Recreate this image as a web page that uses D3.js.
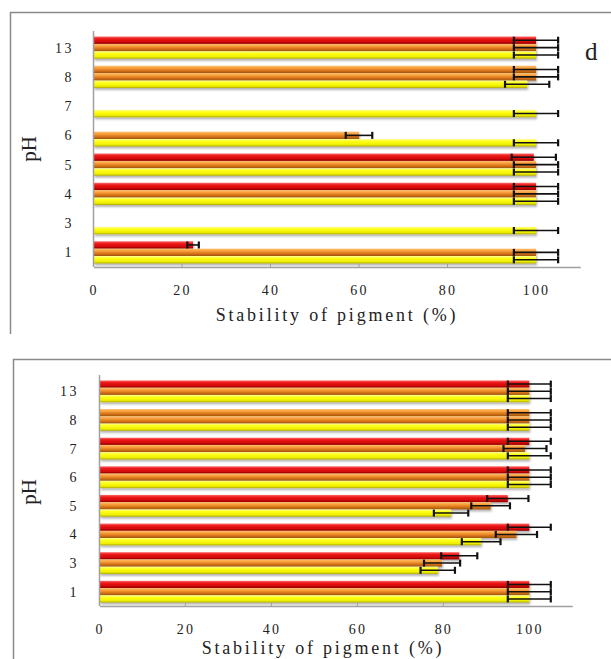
<!DOCTYPE html>
<html>
<head>
<meta charset="utf-8">
<script src="https://cdn.jsdelivr.net/npm/d3@7"></script>
<style>
  body { margin: 0; background: #fff; }
  svg text { font-family: "Liberation Serif", "DejaVu Serif", serif; fill: #222; }
</style>
</head>
<body>
<div id="chart"></div>
<script>
// pH categories, top to bottom
const phLabels = ["13", "8", "7", "6", "5", "4", "3", "1"];
const xTicks = [0, 20, 40, 60, 80, 100];

// upper panel (d)
const topRed = [100, 100, null, null, 99.5, 100, null, 22.5];
const topRedErr = [5, 5, null, null, 5, 5, null, 1.3];
const topOrange = [100, 100, null, 60, 100, 100, null, 100];
const topOrangeErr = [5, 5, null, 3, 5, 5, null, 5];
const topYellow = [100, 98, 100, 100, 100, 100, 100, 100];
const topYellowErr = [5, 5, 5, 5, 5, 5, 5, 5];

// lower panel
const botRed = [100, 100, 100, 100, 95, 100, 83.7, 100];
const botRedErr = [5, 5, 5, 5, 4.8, 5, 4.2, 5];
const botOrange = [100, 100, 99, 100, 91, 97, 79.7, 100];
const botOrangeErr = [5, 5, 5, 5, 4.5, 4.8, 4.2, 5];
const botYellow = [100, 100, 100, 100, 81.8, 88.8, 78.7, 100];
const botYellowErr = [5, 5, 5, 5, 4, 4.5, 4, 5];

const seriesKeys = ["red", "orange", "yellow"];
// at pH 8 the first bar is drawn in the orange fill in the source figure
const firstBarOrangeAt = ["8"];

const width = 611, height = 659;

const svg = d3.select("#chart").append("svg")
    .attr("width", width)
    .attr("height", height);

const defs = svg.append("defs");
const grads = {
    red: [["0%", "#ff6a6a"], ["30%", "#ec1a1a"], ["70%", "#d40808"], ["100%", "#8c0000"]],
    orange: [["0%", "#ffc070"], ["35%", "#f69a34"], ["65%", "#d8741a"], ["100%", "#9c520c"]],
    yellow: [["0%", "#ffff90"], ["30%", "#ffff18"], ["75%", "#eeee00"], ["100%", "#b0a800"]]
};
Object.keys(grads).forEach(function(k) {
    const g = defs.append("linearGradient")
        .attr("id", "g-" + k)
        .attr("x1", 0).attr("y1", 0).attr("x2", 0).attr("y2", 1);
    grads[k].forEach(function(s) {
        g.append("stop").attr("offset", s[0]).attr("stop-color", s[1]);
    });
});
defs.append("filter").attr("id", "shadow")
    .attr("x", "-5%").attr("y", "-50%").attr("width", "110%").attr("height", "200%")
    .append("feDropShadow")
    .attr("dx", 1).attr("dy", 2).attr("stdDeviation", 1)
    .attr("flood-color", "#000").attr("flood-opacity", 0.3);

function drawPanel(cfg) {
    const g = svg.append("g");

    // frame (only top and left edges visible)
    g.append("path")
        .attr("d", `M${cfg.frameX},${cfg.frameBottom}V${cfg.frameY}H${width}`)
        .attr("fill", "none")
        .attr("stroke", "#8a8a8a")
        .attr("stroke-width", 1.5);

    const x = d3.scaleLinear().domain([0, 110]).range([cfg.left, cfg.right]);
    const y = d3.scaleBand().domain(phLabels).range([cfg.top, cfg.bottom])
        .paddingInner(0.24).paddingOuter(0.12);
    const ys = d3.scaleBand().domain(seriesKeys).range([0, y.bandwidth()]);

    const rows = [];
    phLabels.forEach(function(ph, i) {
        seriesKeys.forEach(function(key) {
            const v = cfg.values[key][i];
            if (v == null) return;
            let fill = key;
            if (key === "red" && firstBarOrangeAt.includes(ph)) fill = "orange";
            rows.push({ ph: ph, key: key, value: v, err: cfg.errors[key][i], fill: fill });
        });
    });

    // bars
    g.append("g").attr("filter", "url(#shadow)")
        .selectAll("rect")
        .data(rows)
        .enter()
        .append("rect")
        .attr("x", x(0))
        .attr("y", d => y(d.ph) + ys(d.key))
        .attr("width", d => x(d.value) - x(0))
        .attr("height", ys.bandwidth())
        .attr("fill", d => "url(#g-" + d.fill + ")");

    // axes
    const xAxis = d3.axisBottom(x).tickValues(xTicks).tickSize(0).tickPadding(18);
    const ax = g.append("g").attr("transform", `translate(0,${cfg.bottom})`).call(xAxis);
    ax.select(".domain").attr("stroke", "#a0a0a0").attr("stroke-width", 1.5);
    ax.selectAll(".tick text")
        .attr("font-size", 14)
        .attr("letter-spacing", "2.2px")
        .attr("fill", "#333")
        .attr("font-family", "Liberation Serif, serif");
    g.append("g").selectAll("line")
        .data(xTicks.slice(1, -1))
        .enter()
        .append("line")
        .attr("x1", d => x(d)).attr("x2", d => x(d))
        .attr("y1", cfg.bottom).attr("y2", cfg.bottom - 3)
        .attr("stroke", "#a0a0a0");

    g.append("line")
        .attr("x1", cfg.left).attr("x2", cfg.left)
        .attr("y1", cfg.top - 2).attr("y2", cfg.bottom)
        .attr("stroke", "#a0a0a0").attr("stroke-width", 1.5);

    g.append("g").selectAll("text")
        .data(phLabels)
        .enter()
        .append("text")
        .attr("x", cfg.labelRight)
        .attr("y", d => y(d) + y.bandwidth() / 2 + 5)
        .attr("text-anchor", "end")
        .attr("font-size", 14)
        .attr("letter-spacing", "2.5px")
        .attr("fill", "#333")
        .text(d => d);

    // error bars
    const eb = g.append("g").attr("stroke", "#111");
    rows.forEach(function(d) {
        const cy = y(d.ph) + ys(d.key) + ys.bandwidth() / 2;
        const x0 = x(d.value - d.err), x1 = x(d.value + d.err);
        eb.append("line").attr("x1", x0).attr("x2", x1).attr("y1", cy).attr("y2", cy)
            .attr("stroke-width", 1.6);
        [x0, x1].forEach(function(cx) {
            eb.append("line").attr("x1", cx).attr("x2", cx)
                .attr("y1", cy - 3.5).attr("y2", cy + 3.5)
                .attr("stroke-width", 2.2);
        });
    });

    // titles
    g.append("text")
        .attr("x", cfg.titleX).attr("y", cfg.titleY)
        .attr("text-anchor", "middle")
        .attr("font-size", 18)
        .attr("letter-spacing", "2.8px")
        .attr("fill", "#1a1a1a")
        .text("Stability of pigment (%)");

    g.append("text")
        .attr("transform", `translate(${cfg.phX},${cfg.phY}) rotate(-90)`)
        .attr("text-anchor", "middle")
        .attr("font-size", 21)
        .attr("fill", "#1a1a1a")
        .text("pH");

    if (cfg.tag) {
        g.append("text")
            .attr("x", 585).attr("y", 60)
            .attr("font-size", 25)
            .attr("fill", "#111")
            .text(cfg.tag);
    }
}

drawPanel({
    frameX: 10.5, frameY: 12.5, frameBottom: 334,
    left: 93.5, right: 93.5 + 110 * 4.425, top: 33, bottom: 267,
    labelRight: 74, titleX: 337, titleY: 321, phX: 36, phY: 149, tag: "d",
    values: { red: topRed, orange: topOrange, yellow: topYellow },
    errors: { red: topRedErr, orange: topOrangeErr, yellow: topYellowErr }
});

drawPanel({
    frameX: 13.5, frameY: 359.5, frameBottom: height,
    left: 99.5, right: 99.5 + 110 * 4.298, top: 377, bottom: 606,
    labelRight: 79, titleX: 323, titleY: 654, phX: 36, phY: 492, tag: null,
    values: { red: botRed, orange: botOrange, yellow: botYellow },
    errors: { red: botRedErr, orange: botOrangeErr, yellow: botYellowErr }
});
</script>
</body>
</html>
